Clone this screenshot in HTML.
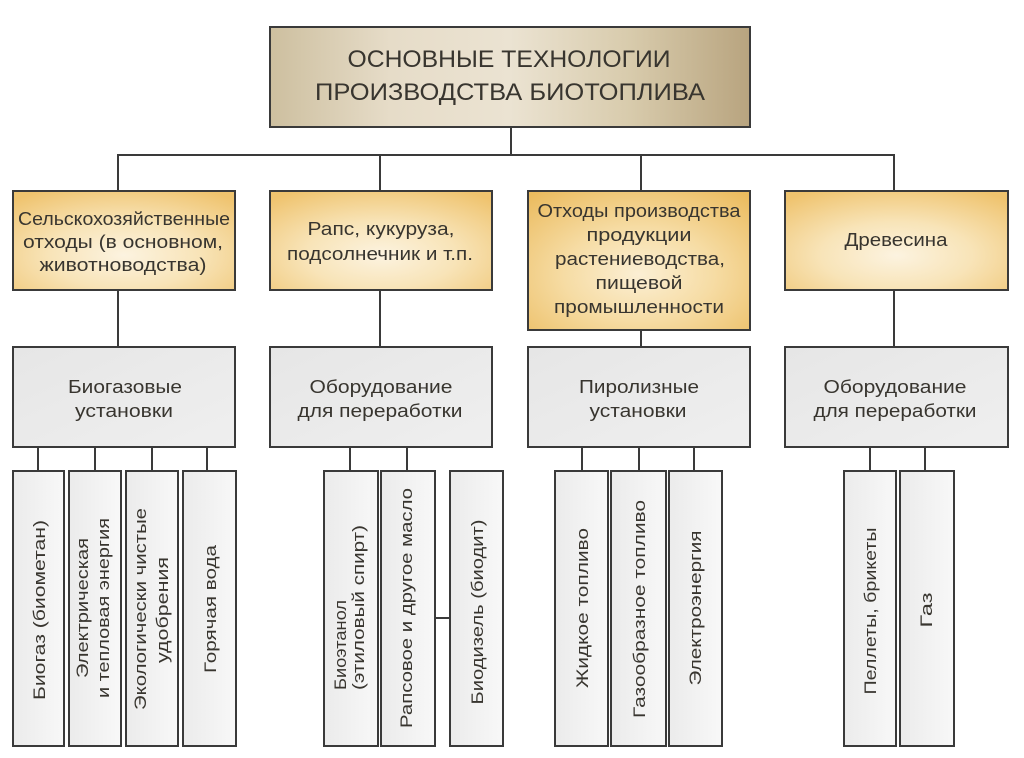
<!DOCTYPE html>
<html>
<head>
<meta charset="utf-8">
<style>
  html, body { margin: 0; padding: 0; background: #ffffff; }
  body { width: 1024px; height: 758px; overflow: hidden; }
  svg { display: block; }
  text { font-family: "Liberation Sans", "DejaVu Sans", sans-serif; fill: #38352f; }
</style>
</head>
<body>
<svg width="1024" height="758" viewBox="0 0 1024 758" xmlns="http://www.w3.org/2000/svg">
  <defs>
    <linearGradient id="gTop" x1="0" y1="0" x2="1" y2="0">
      <stop offset="0" stop-color="#cdbf9f"/>
      <stop offset="0.25" stop-color="#e6dcc8"/>
      <stop offset="0.5" stop-color="#ebe3d2"/>
      <stop offset="0.75" stop-color="#d8cbac"/>
      <stop offset="1" stop-color="#b8a47f"/>
    </linearGradient>
    <radialGradient id="gGold" cx="0.5" cy="0.65" r="0.75">
      <stop offset="0" stop-color="#fcf3e0"/>
      <stop offset="0.45" stop-color="#f8e4b8"/>
      <stop offset="1" stop-color="#efc36e"/>
    </radialGradient>
    <radialGradient id="gGold2" cx="0.5" cy="0.6" r="0.75">
      <stop offset="0" stop-color="#fbefd4"/>
      <stop offset="0.45" stop-color="#f6dca4"/>
      <stop offset="1" stop-color="#ebbb5e"/>
    </radialGradient>
    <linearGradient id="gGray" x1="0" y1="0" x2="1" y2="1">
      <stop offset="0" stop-color="#e6e6e6"/>
      <stop offset="1" stop-color="#efefef"/>
    </linearGradient>
    <linearGradient id="gCol" x1="0" y1="0" x2="1" y2="0">
      <stop offset="0" stop-color="#ebebeb"/>
      <stop offset="1" stop-color="#f8f8f8"/>
    </linearGradient>
  </defs>

  <!-- connectors -->
  <g stroke="#3a3a3a" stroke-width="2" fill="none">
    <line x1="511" y1="127" x2="511" y2="155"/>
    <line x1="117" y1="155" x2="895" y2="155"/>
    <line x1="118" y1="155" x2="118" y2="191"/>
    <line x1="380" y1="155" x2="380" y2="191"/>
    <line x1="641" y1="155" x2="641" y2="191"/>
    <line x1="894" y1="155" x2="894" y2="191"/>

    <line x1="118" y1="290" x2="118" y2="347"/>
    <line x1="380" y1="290" x2="380" y2="347"/>
    <line x1="641" y1="330" x2="641" y2="347"/>
    <line x1="894" y1="290" x2="894" y2="347"/>

    <line x1="38" y1="447" x2="38" y2="471"/>
    <line x1="95" y1="447" x2="95" y2="471"/>
    <line x1="152" y1="447" x2="152" y2="471"/>
    <line x1="207" y1="447" x2="207" y2="471"/>

    <line x1="350" y1="447" x2="350" y2="471"/>
    <line x1="407" y1="447" x2="407" y2="471"/>
    <line x1="435" y1="618" x2="450" y2="618"/>

    <line x1="582" y1="447" x2="582" y2="471"/>
    <line x1="639" y1="447" x2="639" y2="471"/>
    <line x1="694" y1="447" x2="694" y2="471"/>

    <line x1="870" y1="447" x2="870" y2="471"/>
    <line x1="925" y1="447" x2="925" y2="471"/>
  </g>

  <!-- boxes -->
  <g stroke="#3a3a3a" stroke-width="2">
    <rect x="270" y="27" width="480" height="100" fill="url(#gTop)"/>

    <rect x="13" y="191" width="222" height="99" fill="url(#gGold)"/>
    <rect x="270" y="191" width="222" height="99" fill="url(#gGold)"/>
    <rect x="528" y="191" width="222" height="139" fill="url(#gGold2)"/>
    <rect x="785" y="191" width="223" height="99" fill="url(#gGold)"/>

    <rect x="13" y="347" width="222" height="100" fill="url(#gGray)"/>
    <rect x="270" y="347" width="222" height="100" fill="url(#gGray)"/>
    <rect x="528" y="347" width="222" height="100" fill="url(#gGray)"/>
    <rect x="785" y="347" width="223" height="100" fill="url(#gGray)"/>

    <rect x="13" y="471" width="51" height="275" fill="url(#gCol)"/>
    <rect x="69" y="471" width="52" height="275" fill="url(#gCol)"/>
    <rect x="126" y="471" width="52" height="275" fill="url(#gCol)"/>
    <rect x="183" y="471" width="53" height="275" fill="url(#gCol)"/>

    <rect x="324" y="471" width="54" height="275" fill="url(#gCol)"/>
    <rect x="381" y="471" width="54" height="275" fill="url(#gCol)"/>
    <rect x="450" y="471" width="53" height="275" fill="url(#gCol)"/>

    <rect x="555" y="471" width="53" height="275" fill="url(#gCol)"/>
    <rect x="611" y="471" width="55" height="275" fill="url(#gCol)"/>
    <rect x="669" y="471" width="53" height="275" fill="url(#gCol)"/>

    <rect x="844" y="471" width="52" height="275" fill="url(#gCol)"/>
    <rect x="900" y="471" width="54" height="275" fill="url(#gCol)"/>
  </g>

  <!-- title -->
  <g font-size="24" text-anchor="middle">
    <text x="509" y="67" textLength="323" lengthAdjust="spacingAndGlyphs">ОСНОВНЫЕ ТЕХНОЛОГИИ</text>
    <text x="510" y="100" textLength="390" lengthAdjust="spacingAndGlyphs">ПРОИЗВОДСТВА БИОТОПЛИВА</text>
  </g>

  <!-- row 1 -->
  <g font-size="18" text-anchor="middle">
    <text x="124" y="225" textLength="212" lengthAdjust="spacingAndGlyphs">Сельскохозяйственные</text>
    <text x="123" y="248" textLength="200" lengthAdjust="spacingAndGlyphs">отходы (в основном,</text>
    <text x="123" y="271" textLength="167" lengthAdjust="spacingAndGlyphs">животноводства)</text>

    <text x="381" y="235" textLength="147" lengthAdjust="spacingAndGlyphs">Рапс, кукуруза,</text>
    <text x="380" y="260" textLength="186" lengthAdjust="spacingAndGlyphs">подсолнечник и т.п.</text>

    <text x="639" y="217" textLength="203" lengthAdjust="spacingAndGlyphs">Отходы производства</text>
    <text x="639" y="241" textLength="105" lengthAdjust="spacingAndGlyphs">продукции</text>
    <text x="640" y="265" textLength="170" lengthAdjust="spacingAndGlyphs">растениеводства,</text>
    <text x="639" y="289" textLength="87" lengthAdjust="spacingAndGlyphs">пищевой</text>
    <text x="639" y="313" textLength="170" lengthAdjust="spacingAndGlyphs">промышленности</text>

    <text x="896" y="246" textLength="103" lengthAdjust="spacingAndGlyphs">Древесина</text>
  </g>

  <!-- row 2 -->
  <g font-size="18" text-anchor="middle">
    <text x="125" y="393" textLength="114" lengthAdjust="spacingAndGlyphs">Биогазовые</text>
    <text x="124" y="417" textLength="98" lengthAdjust="spacingAndGlyphs">установки</text>

    <text x="381" y="393" textLength="143" lengthAdjust="spacingAndGlyphs">Оборудование</text>
    <text x="380" y="417" textLength="165" lengthAdjust="spacingAndGlyphs">для переработки</text>

    <text x="639" y="393" textLength="120" lengthAdjust="spacingAndGlyphs">Пиролизные</text>
    <text x="638" y="417" textLength="97" lengthAdjust="spacingAndGlyphs">установки</text>

    <text x="895" y="393" textLength="143" lengthAdjust="spacingAndGlyphs">Оборудование</text>
    <text x="895" y="417" textLength="163" lengthAdjust="spacingAndGlyphs">для переработки</text>
  </g>

  <!-- bottom vertical texts -->
  <g font-size="17" text-anchor="middle">
    <text transform="translate(45,610) rotate(-90)" textLength="180" lengthAdjust="spacingAndGlyphs">Биогаз (биометан)</text>
    <text transform="translate(88,608) rotate(-90)" textLength="140" lengthAdjust="spacingAndGlyphs">Электрическая</text>
    <text transform="translate(109,608) rotate(-90)" textLength="180" lengthAdjust="spacingAndGlyphs">и тепловая энергия</text>
    <text transform="translate(146,609) rotate(-90)" textLength="202" lengthAdjust="spacingAndGlyphs">Экологически чистые</text>
    <text transform="translate(168,610) rotate(-90)" textLength="106" lengthAdjust="spacingAndGlyphs">удобрения</text>
    <text transform="translate(216,609) rotate(-90)" textLength="128" lengthAdjust="spacingAndGlyphs">Горячая вода</text>

    <text transform="translate(412,608) rotate(-90)" textLength="240" lengthAdjust="spacingAndGlyphs">Рапсовое и другое масло</text>
    <text transform="translate(483,612) rotate(-90)" textLength="185" lengthAdjust="spacingAndGlyphs">Биодизель (биодит)</text>

    <text transform="translate(588,608) rotate(-90)" textLength="160" lengthAdjust="spacingAndGlyphs">Жидкое топливо</text>
    <text transform="translate(645,609) rotate(-90)" textLength="218" lengthAdjust="spacingAndGlyphs">Газообразное топливо</text>
    <text transform="translate(701,608) rotate(-90)" textLength="155" lengthAdjust="spacingAndGlyphs">Электроэнергия</text>

    <text transform="translate(876,611) rotate(-90)" textLength="167" lengthAdjust="spacingAndGlyphs">Пеллеты, брикеты</text>
    <text transform="translate(932,610) rotate(-90)" textLength="35" lengthAdjust="spacingAndGlyphs">Газ</text>
  </g>
  <g font-size="17" text-anchor="start">
    <text transform="translate(346,690) rotate(-90)" textLength="90" lengthAdjust="spacingAndGlyphs">Биоэтанол</text>
    <text transform="translate(364,690) rotate(-90)" textLength="165" lengthAdjust="spacingAndGlyphs">(этиловый спирт)</text>
  </g>
</svg>
</body>
</html>
